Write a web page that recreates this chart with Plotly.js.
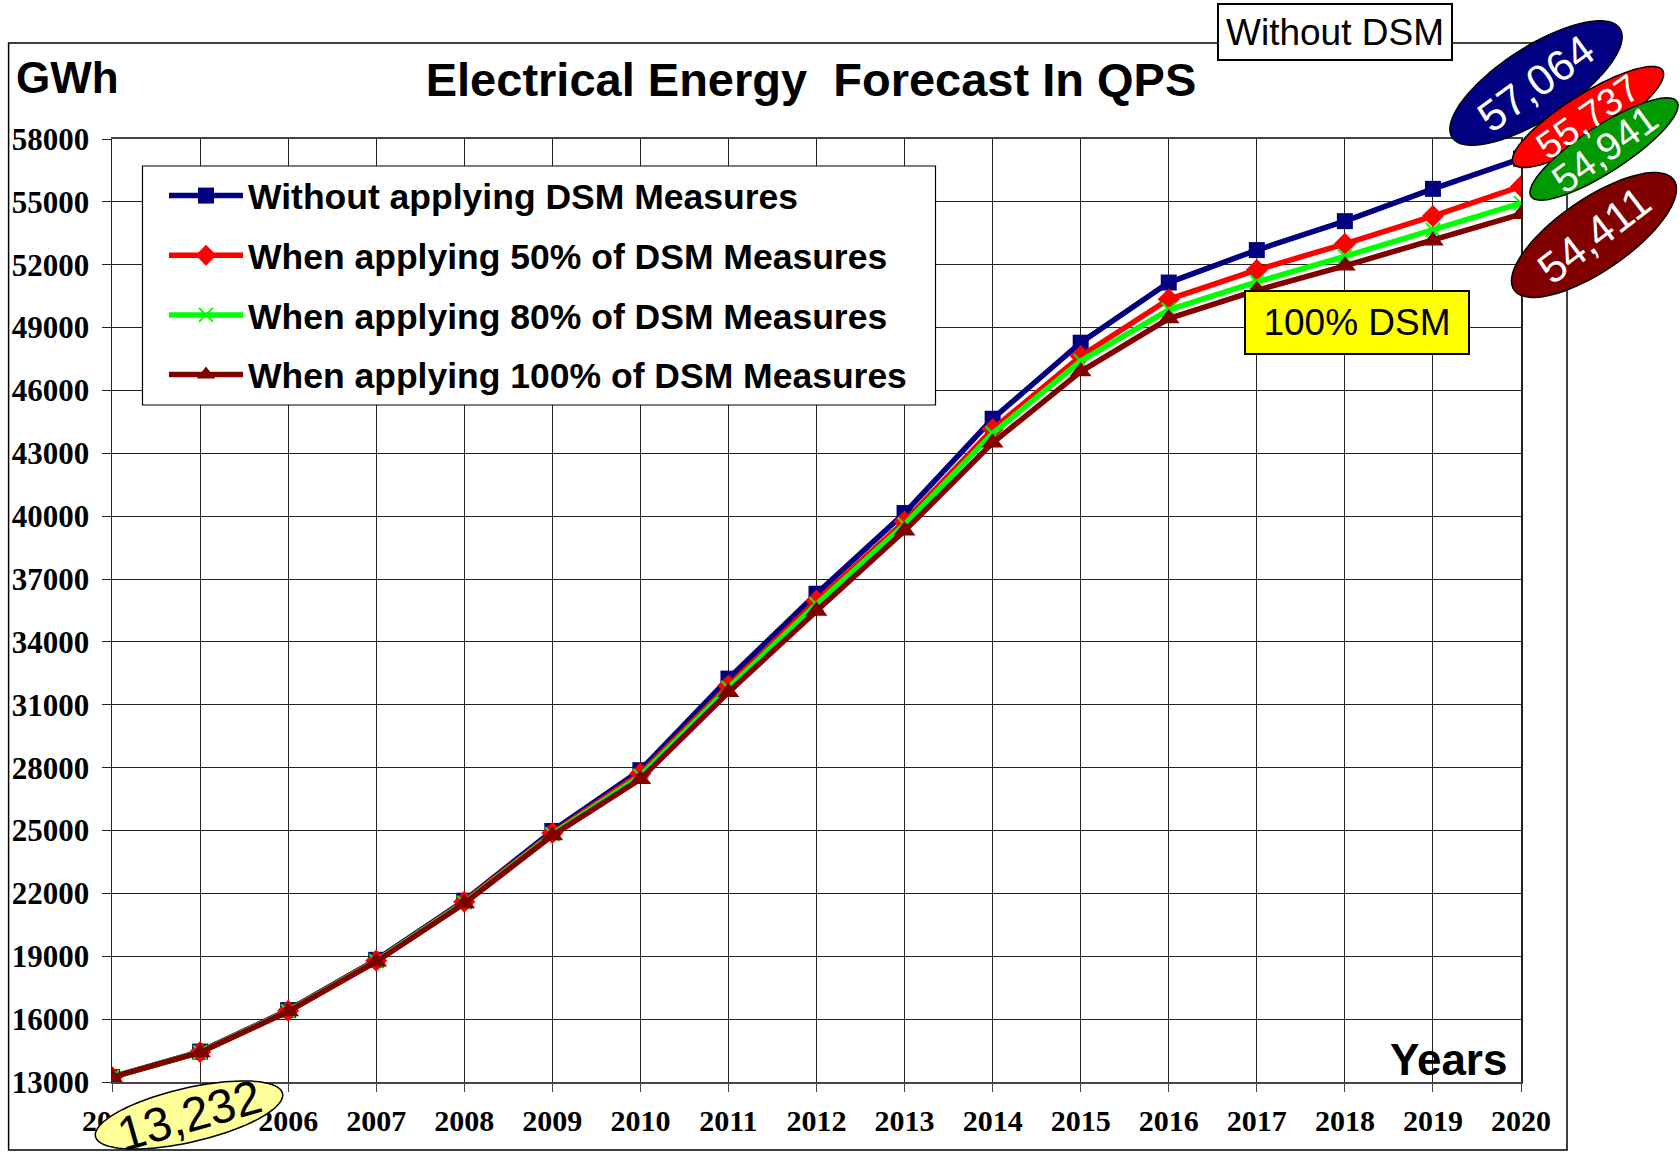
<!DOCTYPE html>
<html>
<head>
<meta charset="utf-8">
<script src="https://cdn.plot.ly/plotly-3.0.1.min.js"></script>
<style>
  html, body { margin: 0; padding: 0; background: #ffffff; }
  #chart { width: 1680px; height: 1152px; }
</style>
</head>
<body>
<div id="chart"></div>
<script>
// ---- data ----
const years = [2004, 2005, 2006, 2007, 2008, 2009, 2010, 2011, 2012, 2013, 2014, 2015, 2016, 2017, 2018, 2019, 2020];
const withoutDSM = [13232, 14450, 16430, 18830, 21650, 24980, 27880, 32250, 36300, 40150, 44650, 48280, 51150, 52700, 54080, 55620, 57064];
const dsm50  = [13232, 14430, 16400, 18790, 21600, 24880, 27720, 31920, 35970, 39750, 44150, 47640, 50350, 51750, 53000, 54320, 55737];
const dsm80  = [13232, 14420, 16380, 18770, 21560, 24820, 27600, 31800, 35800, 39600, 43950, 47400, 49850, 51180, 52400, 53660, 54941];
const dsm100 = [13232, 14410, 16360, 18740, 21520, 24760, 27450, 31600, 35480, 39300, 43500, 46900, 49430, 50780, 51950, 53150, 54411];
const seriesNames = [
  'Without applying DSM Measures',
  'When applying 50% of DSM Measures',
  'When applying 80% of DSM Measures',
  'When applying 100% of DSM Measures'
];
const yTicks = [13000, 16000, 19000, 22000, 25000, 28000, 31000, 34000, 37000, 40000, 43000, 46000, 49000, 52000, 55000, 58000];
const chartTitle = 'Electrical Energy  Forecast In QPS';
const startLabel = '13,232';
const endLabels = ['57,064', '55,737', '54,941', '54,411'];

// ---- layout geometry ----
const W = 1680, H = 1152;
const M = {l: 112, r: 159, t: 139, b: 70};
const PW = W - M.l - M.r, PH = H - M.t - M.b;
const px2paper = (px) => (px - M.l) / PW;
const py2paper = (py) => (H - M.b - py) / PH;

function ellipsePath(cx, cy, a, b, deg) {
  const th = deg * Math.PI / 180;
  const pts = [];
  for (let k = 0; k < 96; k++) {
    const p = k / 96 * 2 * Math.PI;
    const x = cx + a * Math.cos(p) * Math.cos(th) - b * Math.sin(p) * Math.sin(th);
    const y = cy - (a * Math.cos(p) * Math.sin(th) + b * Math.sin(p) * Math.cos(th));
    pts.push(px2paper(x).toFixed(5) + ',' + py2paper(y).toFixed(5));
  }
  return 'M' + pts.join('L') + 'Z';
}

const colors = ['#000080', '#FF0000', '#00FF00', '#800000'];
const symbols = ['square', 'diamond', 'x-thin', 'triangle-up'];
const msizes = [16, 17, 14, 19];
const allY = [withoutDSM, dsm50, dsm80, dsm100];

const traces = allY.map((ys, i) => ({
  type: 'scatter', mode: 'lines+markers',
  x: years, y: ys, name: seriesNames[i], legendgroup: 'g' + i,
  line: {color: colors[i], width: 5.5},
  marker: {symbol: symbols[i], size: msizes[i], color: colors[i],
           line: {color: colors[i], width: i === 2 ? 2 : 0}}
}));

// label ellipses: [cx, cy, a, b, angle, fill, textColor, text, fontSize]
const bubbles = [
  [1536, 83, 100, 36, 33, '#000080', '#ffffff', endLabels[0], 43],
  [1588, 117, 88, 23, 32, '#FF0000', '#ffffff', endLabels[1], 38],
  [1604, 149, 87, 23, 33, '#009900', '#ffffff', endLabels[2], 39],
  [1594, 235, 97, 36, 34.5, '#800000', '#ffffff', endLabels[3], 43],
  [189, 1115, 96, 27, 13, '#FFFF99', '#000000', startLabel, 48]
];

const shapes = [{
  type: 'rect', xref: 'paper', yref: 'paper', layer: 'below',
  x0: px2paper(8.6), x1: px2paper(1567), y0: py2paper(1150), y1: py2paper(43),
  line: {color: '#000000', width: 1.5}, fillcolor: 'rgba(0,0,0,0)'
}, {
  // legend frame
  type: 'rect', xref: 'paper', yref: 'paper', layer: 'above',
  x0: px2paper(142.5), x1: px2paper(935.5), y0: py2paper(405), y1: py2paper(166),
  line: {color: '#000000', width: 1.2}, fillcolor: '#ffffff'
}];
const annotations = [];
bubbles.forEach(b => {
  shapes.push({type: 'path', xref: 'paper', yref: 'paper', layer: 'above',
    path: ellipsePath(b[0], b[1], b[2], b[3], b[4]),
    fillcolor: b[5], line: {color: '#000000', width: 1.5}});
  annotations.push({xref: 'paper', yref: 'paper', x: px2paper(b[0]), y: py2paper(b[1]),
    xanchor: 'center', yanchor: 'middle', showarrow: false, text: b[7], textangle: -(b[4] + 3),
    font: {family: 'Liberation Sans, Arial, sans-serif', size: b[8], color: b[6]}});
});

annotations.push(
  {xref: 'paper', yref: 'paper', x: px2paper(67), y: py2paper(78), xanchor: 'center', yanchor: 'middle',
   showarrow: false, text: 'GWh', font: {family: 'Liberation Sans, Arial, sans-serif', size: 44, weight: 700, color: '#000'}},
  {xref: 'paper', yref: 'paper', x: px2paper(1448), y: py2paper(1059), xanchor: 'center', yanchor: 'middle',
   showarrow: false, text: 'Years', font: {family: 'Liberation Sans, Arial, sans-serif', size: 44, weight: 700, color: '#000'}},
  {xref: 'paper', yref: 'paper', x: px2paper(1335), y: py2paper(32), xanchor: 'center', yanchor: 'middle',
   showarrow: false, text: 'Without DSM', bgcolor: '#ffffff', bordercolor: '#000000', borderwidth: 2, borderpad: 1,
   width: 230, height: 52,
   font: {family: 'Liberation Sans, Arial, sans-serif', size: 37, color: '#000'}},
  {xref: 'paper', yref: 'paper', x: px2paper(1357), y: py2paper(323), xanchor: 'center', yanchor: 'middle',
   showarrow: false, text: '100% DSM', bgcolor: '#FFFF00', bordercolor: '#000000', borderwidth: 2, borderpad: 1,
   width: 220, height: 59,
   font: {family: 'Liberation Sans, Arial, sans-serif', size: 37, color: '#000'}}
);

const yTickFont = {family: 'Liberation Serif, Times New Roman, serif', size: 31, weight: 700, color: '#000'};
const xTickFont = {family: 'Liberation Serif, Times New Roman, serif', size: 30, weight: 700, color: '#000'};

const layout = {
  width: W, height: H,
  margin: M,
  paper_bgcolor: '#ffffff', plot_bgcolor: '#ffffff',
  title: {text: chartTitle, xref: 'container', yref: 'container', x: 811 / W, y: 1 - 80 / H,
          xanchor: 'center', yanchor: 'middle',
          font: {family: 'Liberation Sans, Arial, sans-serif', size: 47, weight: 700, color: '#000'}},
  xaxis: {type: 'linear', range: [2004, 2020], tickmode: 'array', tickvals: years,
          ticktext: years.map(String), showgrid: true, gridcolor: '#222', gridwidth: 1,
          showline: true, linecolor: '#444', linewidth: 2, mirror: true,
          ticks: 'outside', ticklen: 8, tickcolor: '#444', tickwidth: 1,
          tickfont: xTickFont, zeroline: false, ticklabelstandoff: 3},
  yaxis: {range: [13000, 58000], tickmode: 'array', tickvals: yTicks, ticktext: yTicks.map(String),
          showgrid: true, gridcolor: '#222', gridwidth: 1,
          showline: true, linecolor: '#222', linewidth: 1.5, mirror: true,
          ticks: 'outside', ticklen: 9, tickcolor: '#222', tickwidth: 1,
          tickfont: yTickFont, zeroline: false, ticklabelstandoff: 6},
  showlegend: true,
  legend: {x: px2paper(164), y: py2paper(166), xanchor: 'left', yanchor: 'top',
           bgcolor: 'rgba(0,0,0,0)', borderwidth: 0,
           font: {family: 'Liberation Sans, Arial, sans-serif', size: 35.5, weight: 700, color: '#000'},
           tracegroupgap: 10.5, itemwidth: 74},
  shapes: shapes,
  annotations: annotations
};

Plotly.newPlot('chart', traces, layout, {staticPlot: true, displayModeBar: false});
</script>
</body>
</html>
